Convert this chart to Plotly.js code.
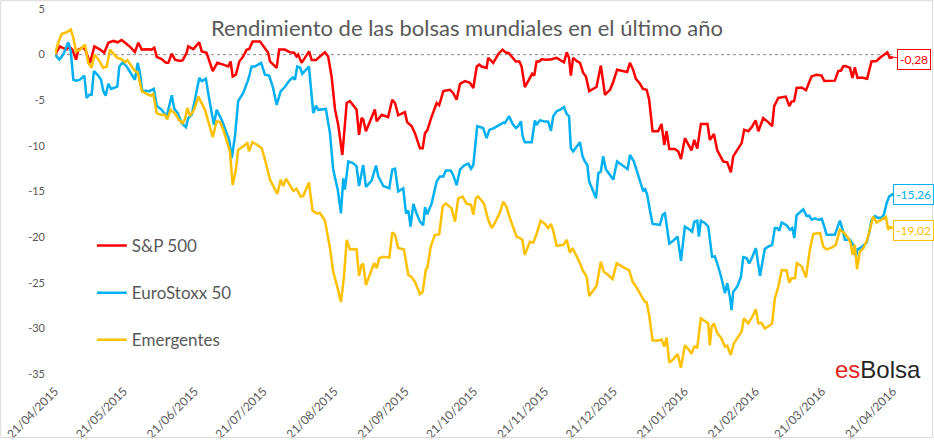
<!DOCTYPE html>
<html>
<head>
<meta charset="utf-8">
<script src="https://cdn.plot.ly/plotly-3.0.1.min.js"></script>
<style>html,body{margin:0;padding:0;background:#fff;}#chart{width:934px;height:440px;}</style>
</head>
<body>
<div id="chart"></div>
<script>
// Tick labels (dates) and y tick labels
const tickLabels = ['21/04/2015','21/05/2015','21/06/2015','21/07/2015','21/08/2015','21/09/2015','21/10/2015','21/11/2015','21/12/2015','21/01/2016','21/02/2016','21/03/2016','21/04/2016'];
const yTickLabels = ['5','0','-5','-10','-15','-20','-25','-30','-35'];
const seriesNames = ['S&P 500','EuroStoxx 50','Emergentes'];

// Days since 21/04/2015 and return (%)
const spDays = [0,2.2,3.6,5.1,6.2,7.6,9.2,10.2,12.4,13.5,15.3,17.2,19.7,21.5,23.3,25.5,27.4,29.1,30.6,32.8,34.9,36.4,37.9,40.0,42.2,43.4,44.4,46.6,48.5,49.5,51.0,52.4,54.6,55.8,57.5,58.2,60.4,63.0,64.1,66.2,68.9,70.9,73.5,75.7,76.7,77.6,79.0,80.5,82.2,83.7,84.8,86.3,89.5,91.7,93.1,93.9,96.8,97.9,100.4,102.6,104.4,105.5,106.2,107.7,109.2,111.0,112.1,114.0,115.7,117.9,119.3,120.8,122.3,123.7,125.5,127.4,128.8,131.7,132.8,133.9,134.6,135.8,137.6,139.7,140.5,142.7,145.5,147.3,148.5,149.9,152.8,153.8,155.8,157.2,159.4,160.6,161.6,162.6,164.5,166.7,167.8,169.6,172.5,173.9,175.4,176.9,179.0,181.2,182.7,184.2,185.3,186.3,188.5,189.2,190.0,191.4,193.7,195.5,197.0,198.0,199.4,201.3,202.8,203.8,205.2,207.4,208.4,209.3,210.3,211.5,212.5,214.7,216.9,219.1,220.5,222.3,223.5,224.5,225.3,226.3,228.1,229.3,230.7,231.9,233.3,235.1,236.5,238.4,240.2,242.4,243.8,245.5,247.5,249.9,251.1,252.5,253.7,255.5,256.8,258.4,259.5,261.0,263.4,264.9,266.1,267.1,268.3,270.7,272.2,273.4,275.1,277.0,278.0,279.2,280.5,282.1,285.0,286.0,287.8,289.2,291.8,293.6,295.2,296.2,298.4,299.9,301.0,302.8,304.3,306.0,307.2,309.3,311.5,313.2,314.1,315.9,319.2,320.7,321.7,322.8,323.9,326.1,328.0,330.4,332.6,334.8,336.0,338.4,340.6,342.1,343.3,344.2,345.4,347.2,348.3,349.3,350.5,352.3,354.7,356.6,358.8,360.3,361.7,363.5,364.6,366];
const spVals = [0,0.9,0.7,0.55,0.9,0.55,-0.55,0.55,0.8,0.36,-0.9,0.9,0.55,0.2,1.3,1.5,1.35,1.6,1.3,0.85,0.3,1.3,0.55,0.6,0.55,0.75,-0.25,-0.5,-0.9,-0.9,0.1,-0.55,-0.7,-0.6,0.2,0.9,0.6,1.35,0.35,0.2,-1.8,-0.9,-1.1,-1.3,-0.75,-2.4,-2.2,-0.75,-0.2,0.55,0.6,1.45,1.45,0.75,0.2,-0.75,-1.45,0.55,0.55,0.25,0.2,-0.2,0,-0.9,-0.35,0.35,-0.6,-0.6,-0.2,0.25,-0.2,-2.4,-6.0,-7.7,-11.0,-5.3,-5.1,-6.0,-8.8,-6.95,-7.1,-8.4,-7.3,-6.0,-7.3,-6.6,-6.85,-4.95,-5.3,-6.65,-6.3,-7.4,-7.85,-8.6,-10.25,-10.25,-8.6,-8.3,-6.8,-5.3,-5.55,-4.0,-3.85,-4.2,-4.95,-3.2,-2.9,-3.1,-3.65,-1.3,-1.1,-1.3,-1.45,-0.35,-0.55,-0.9,0.1,0.55,0.2,0.2,-0.2,-0.75,-0.75,-1.3,-3.55,-2.55,-2.1,-2.3,-0.75,-0.75,-0.5,-0.55,-0.5,-0.35,-0.55,-0.85,0.25,-0.35,-2.3,-0.35,-0.75,-0.9,-2.0,-2.4,-4.0,-3.75,-3.55,-1.2,-4.4,-3.85,-3.0,-1.65,-1.8,-1.9,-0.9,-1.65,-2.65,-3.2,-3.75,-3.85,-4.95,-8.4,-8.4,-7.6,-9.9,-8.4,-10.35,-10.35,-10.6,-11.45,-9.15,-10.05,-10.5,-9.35,-10.3,-7.6,-7.6,-9.35,-8.7,-10.45,-11.7,-11.8,-12.9,-11.15,-10.25,-9.7,-8.25,-8.4,-7.95,-7.2,-8.4,-6.95,-7.4,-7.85,-5.65,-4.75,-4.6,-5.65,-5.15,-5.1,-3.65,-3.6,-3.9,-2.4,-2.2,-2.3,-2.9,-2.9,-2.85,-1.8,-1.75,-1.3,-1.25,-1.45,-2.55,-1.4,-2.55,-2.5,-2.65,-0.75,-0.7,-0.35,-0.1,0.25,-0.35,-0.28];

const euDays = [0,1.9,3.6,5.8,6.9,8.0,9.5,10.9,12.8,13.8,15.0,16.0,17.0,18.9,20.1,21.1,22.1,23.3,24.5,26.2,27.2,28.1,29.6,31.3,33.2,34.9,36.1,37.1,38.1,39.7,41.2,43.2,44.4,46.6,48.8,51.0,52.1,53.6,55.3,57.2,58.2,59.7,61.1,63.0,64.1,65.9,67.4,69.4,70.6,72.8,75.0,76.1,77.2,78.6,80.0,82.2,84.4,85.9,87.3,90.0,91.7,93.5,95.1,96.8,98.6,100.4,102.2,103.8,104.8,105.8,107.0,108.0,110.9,112.8,114.0,115.0,118.3,120.1,121.5,123.5,124.9,125.9,126.6,128.1,130.3,131.7,132.8,133.9,134.6,135.8,138.3,140.2,141.2,143.4,146.0,147.3,148.5,149.9,152.1,153.3,154.3,155.3,156.5,157.9,159.4,160.8,161.6,162.6,164.5,166.7,168.1,169.6,170.7,172.8,173.9,175.4,176.9,178.6,180.5,181.7,182.7,184.4,187.0,188.5,189.7,191.7,194.0,195.8,196.5,198.3,199.9,201.3,202.3,203.5,204.2,205.2,208.2,209.6,210.3,211.8,213.5,215.4,216.6,217.6,219.1,220.5,222.3,223.5,224.5,225.3,226.3,227.8,229.3,230.4,231.4,232.5,233.3,235.1,236.3,237.3,238.4,239.4,240.6,242.4,243.8,245.5,247.9,250.1,251.1,252.8,254.7,256.9,257.6,258.6,259.8,261.0,264.2,265.4,266.4,268.3,270.0,271.9,273.4,275.1,277.3,278.3,279.2,280.5,281.2,282.1,283.8,285.3,287.0,288.2,289.7,291.1,292.6,293.6,294.8,295.5,296.2,298.0,299.6,300.6,302.1,303.2,304.5,306.1,307.9,310.0,311.5,313.2,314.4,315.4,316.3,317.4,319.5,321.0,322.0,322.9,323.9,325.3,326.8,328.3,329.4,330.5,331.9,333.4,334.9,336.0,337.0,340.6,342.1,342.8,344.0,345.0,347.2,348.9,349.8,350.6,351.5,353.0,354.5,355.6,356.6,358.1,359.5,361.0,362.0,363.2,364.3,366];
const euVals = [0,-0.55,0,1.35,0.35,-2.75,-2.85,-2.75,-2.3,-4.75,-4.4,-4.4,-1.8,-2.3,-2.75,-4.0,-4.5,-3.2,-3.75,-3.55,-3.5,-1.3,-0.85,-1.3,-2.1,-2.75,-0.9,-2.0,-4.0,-3.95,-4.0,-3.75,-5.6,-6.05,-6.75,-4.45,-5.95,-6.4,-7.5,-7.95,-6.95,-6.6,-4.95,-2.55,-2.9,-2.65,-4.95,-7.7,-6.05,-7.15,-8.6,-9.35,-11.35,-8.95,-5.1,-4.2,-2.75,-1.3,-1.3,-0.9,-2.2,-2.3,-3.5,-5.5,-4.0,-3.55,-2.9,-2.5,-2.75,-1.3,-1.4,-2.1,-1.3,-6.4,-5.6,-6.05,-5.95,-8.6,-12.6,-14.8,-17.4,-13.55,-14.8,-11.7,-11.9,-12.25,-14.4,-13.2,-12.1,-14.5,-13.8,-12.15,-13.35,-14.4,-14.65,-12.6,-12.5,-15.0,-14.65,-17.4,-17.1,-18.85,-16.35,-17.4,-18.3,-18.7,-16.7,-17.5,-16.3,-13.9,-13.35,-13.35,-12.7,-12.7,-13.2,-14.3,-12.6,-12.15,-11.95,-12.5,-12.1,-7.85,-8.05,-9.15,-8.25,-8.05,-7.7,-7.45,-7.5,-6.75,-7.6,-8.05,-7.85,-7.3,-8.9,-9.6,-9.6,-7.2,-7.7,-7.2,-7.3,-7.35,-8.35,-6.75,-6.2,-6.05,-5.75,-6.5,-6.75,-10.25,-10.6,-10.15,-9.6,-11.15,-11.7,-12.1,-13.9,-15.0,-15.75,-13.0,-12.8,-11.15,-12.55,-13.2,-13.7,-11.7,-12.1,-12.55,-11.0,-11.7,-13.2,-15.0,-14.65,-15.3,-17.0,-18.55,-18.65,-17.55,-17.4,-20.7,-20.4,-19.95,-22.6,-18.85,-19.2,-19.4,-18.3,-18.2,-19.95,-18.2,-18.45,-18.85,-22.15,-22.1,-23.25,-24.5,-26.15,-25.05,-26.6,-28.0,-26.0,-25.4,-24.35,-22.2,-22.3,-22.9,-22.2,-21.2,-24.25,-21.3,-21.05,-20.85,-19.0,-19.0,-19.3,-18.4,-18.7,-19.2,-19.0,-20.1,-17.6,-17.3,-16.95,-17.7,-17.65,-18.1,-17.95,-18.1,-18.0,-18.85,-19.75,-19.75,-18.75,-18.2,-19.2,-20.3,-20.3,-20.95,-22.15,-21.3,-21.25,-20.95,-20.6,-19.55,-18.1,-17.7,-17.9,-17.85,-17.55,-16.3,-15.55,-15.26];

const emDays = [0,1.4,2.9,5.1,6.9,8.0,9.2,10.9,13.1,14.5,16.0,17.2,18.9,21.1,22.6,24.0,25.5,27.2,29.1,30.6,31.6,33.5,34.9,36.1,37.9,40.0,41.8,42.9,44.4,46.2,48.0,49.0,50.5,52.4,54.3,55.8,56.8,57.8,59.0,60.7,62.6,65.5,66.9,68.9,70.6,72.1,73.5,75.2,76.4,77.6,79.0,80.0,82.2,84.0,84.7,86.2,88.1,90.3,91.7,93.9,96.1,97.1,98.6,99.7,100.9,102.6,104.1,105.5,107.3,108.4,110.9,112.5,114.3,115.7,117.9,120.1,121.5,123.3,124.9,126.2,127.4,128.8,130.3,131.7,132.8,133.9,134.6,135.8,137.6,139.4,140.5,141.6,143.4,146.0,147.3,148.5,149.9,152.4,154.3,155.8,157.2,159.4,160.6,162.0,162.6,164.1,165.9,167.8,169.3,170.7,173.2,174.7,176.1,178.0,179.8,181.7,182.7,183.8,184.8,187.3,189.2,190.7,192.1,194.3,195.8,197.2,198.7,200.4,201.6,203.1,204.1,205.2,207.4,208.9,210.4,212.1,214.0,215.4,216.6,217.6,219.1,222.0,223.5,224.9,226.1,227.5,229.3,230.4,232.2,233.3,235.1,236.5,238.4,239.7,241.6,243.5,245.3,247.4,248.9,250.8,252.3,254.0,256.2,257.6,258.4,259.5,261.0,263.4,264.9,266.1,267.1,268.3,270.0,271.9,273.4,275.1,277.0,278.0,279.2,280.5,282.1,284.3,285.3,286.0,286.8,287.8,289.2,290.8,292.6,293.6,295.1,296.5,298.4,299.9,300.9,302.8,304.7,306.1,307.2,308.6,310.0,311.5,313.2,314.4,315.9,317.4,319.5,320.7,321.7,323.2,324.0,326.1,328.0,329.7,331.2,334.1,335.6,337.0,339.2,341.0,342.8,344.7,346.4,347.5,348.3,349.3,350.3,351.5,353.0,354.7,356.2,357.3,358.8,361.0,362.9,363.9,364.6,366];
const emVals = [0,1.3,2.25,2.45,2.75,1.85,0.35,0.55,1.1,-0.9,-1.45,0,-0.5,-1.45,-1.3,0.55,0.1,-0.35,-0.5,-0.85,-0.6,-1.3,-1.8,-1.95,-4.0,-4.3,-4.5,-4.3,-6.4,-6.6,-6.6,-7.1,-6.05,-6.45,-7.2,-7.5,-7.05,-5.85,-6.75,-6.05,-4.6,-6.05,-7.3,-9.05,-7.3,-7.4,-8.25,-9.5,-10.6,-14.3,-12.6,-10.45,-10.05,-9.7,-10.6,-9.6,-9.85,-10.25,-11.5,-13.7,-14.8,-15.25,-13.7,-14.4,-13.6,-14.4,-14.95,-14.7,-15.55,-15.5,-14.0,-17.1,-17.4,-17.35,-18.2,-21.2,-23.8,-25.45,-27.1,-24.35,-20.3,-21.35,-21.3,-21.35,-24.25,-23.05,-22.9,-25.25,-24.15,-22.85,-23.4,-22.3,-22.15,-22.25,-19.5,-19.75,-21.2,-21.35,-24.15,-24.4,-24.9,-26.25,-26.0,-23.5,-23.4,-21.05,-19.75,-19.7,-16.65,-16.3,-16.85,-18.3,-15.75,-15.55,-16.35,-16.45,-17.55,-15.75,-15.55,-16.3,-18.1,-19.0,-18.45,-17.3,-16.1,-16.7,-17.95,-19.2,-19.95,-20.1,-20.3,-21.95,-20.5,-20.6,-19.6,-18.2,-18.55,-19.0,-18.55,-19.3,-20.95,-20.85,-20.3,-21.7,-21.2,-21.95,-22.85,-23.6,-24.35,-26.45,-25.9,-25.35,-22.7,-23.8,-24.15,-24.6,-22.85,-23.2,-23.4,-23.65,-24.9,-25.5,-26.45,-27.1,-27.15,-28.55,-31.3,-31.35,-31.2,-32.0,-31.0,-33.75,-33.4,-32.8,-34.3,-31.85,-32.4,-32.8,-32.0,-32.1,-28.9,-29.3,-29.45,-31.85,-29.8,-29.45,-30.5,-31.0,-32.0,-31.9,-32.9,-31.65,-31.0,-30.35,-28.9,-29.45,-28.65,-27.9,-29.45,-29.4,-30.0,-29.8,-29.45,-26.7,-25.45,-23.6,-23.65,-25.0,-24.5,-24.5,-22.85,-23.2,-24.4,-21.35,-19.65,-19.55,-21.05,-21.35,-21.15,-20.85,-19.2,-19.55,-20.1,-20.65,-21.95,-20.85,-23.5,-21.6,-21.25,-20.3,-18.9,-17.75,-18.4,-18.1,-17.8,-19.2,-18.9,-19.02];

const colors = ['#FF0000','#00B0F0','#FFC000'];

const DAY = 86400000;
function parseDMY(s){ const p = s.split('/'); return Date.UTC(+p[2], +p[1]-1, +p[0]); }
const START = parseDMY(tickLabels[0]);
const END = parseDMY(tickLabels[tickLabels.length-1]);
const toX = d => START + d*DAY;

const allDays = [spDays, euDays, emDays];
const allVals = [spVals, euVals, emVals];

const traces = allDays.map((days, i) => ({
  type: 'scatter', mode: 'lines',
  x: days.map(toX), y: allVals[i],
  name: seriesNames[i], legendgroup: 'g'+i,
  line: {color: colors[i], width: 2.5},
  hoverinfo: 'skip'
}));

const FONT = 'Lato, "Open Sans", sans-serif';
const fmt = v => v.toFixed(2).replace('.', ',');

const endAnn = allDays.map((days, i) => {
  const n = days.length - 1;
  return {
    x: toX(days[n]), y: allVals[i][n], xref: 'x', yref: 'y',
    text: fmt(allVals[i][n]),
    showarrow: true, arrowhead: 0, arrowwidth: 1, arrowcolor: colors[i],
    ax: [21, 20, 20][i], ay: [2, 1, 2][i],
    bgcolor: '#FFFFFF', bordercolor: colors[i], borderwidth: 1, borderpad: 2,
    font: {family: FONT, size: 12, color: colors[i]}
  };
});

const layout = {
  width: 934, height: 440,
  margin: {l: 55, r: 41, t: 9, b: 66},
  paper_bgcolor: '#FFFFFF', plot_bgcolor: '#FFFFFF',
  title: {text: 'Rendimiento de las bolsas mundiales en el último año',
          x: 0.5, xanchor: 'center', xref: 'container',
          y: 1 - 28/440, yanchor: 'middle', yref: 'container',
          font: {family: FONT, size: 22, color: '#595959'}},
  showlegend: true,
  legend: {x: 0.044, xanchor: 'left', y: 0.40, yanchor: 'top',
           bgcolor: 'rgba(0,0,0,0)', tracegroupgap: 22,
           font: {family: FONT, size: 17, color: '#595959'}},
  xaxis: {type: 'date', range: [START, END],
          tickmode: 'array', tickvals: tickLabels.map(parseDMY), ticktext: tickLabels,
          tickangle: -45, tickfont: {family: FONT, size: 12, color: '#595959'},
          ticklabelstandoff: 7,
          showgrid: false, zeroline: false, showline: false, ticks: ''},
  yaxis: {range: [-35, 5], tickmode: 'array',
          tickvals: yTickLabels.map(Number), ticktext: yTickLabels,
          tickfont: {family: FONT, size: 11, color: '#595959'},
          ticklabelstandoff: 9,
          showgrid: false, zeroline: false, showline: false, ticks: ''},
  shapes: [
    {type: 'line', xref: 'x', yref: 'y', x0: START, x1: END, y0: 0, y1: 0,
     line: {color: '#8C8C8C', width: 1, dash: 'dot'}, layer: 'below'},
    {type: 'rect', xref: 'paper', yref: 'paper',
     x0: -54.25/838, x1: 877.5/838, y0: -63.5/365, y1: 373.25/365,
     line: {color: '#D9D9D9', width: 1}, fillcolor: 'rgba(0,0,0,0)'}
  ],
  annotations: endAnn.concat([
    {xref: 'paper', yref: 'paper', x: 868/838, y: (374-369)/365,
     xanchor: 'right', yanchor: 'middle', showarrow: false,
     text: '<span style="color:#E2231A">es</span>Bolsa',
     font: {family: '"Liberation Sans", Arial, sans-serif', size: 24, color: '#262626'}}
  ])
};

Plotly.newPlot('chart', traces, layout, {staticPlot: true, displayModeBar: false});
</script>
</body>
</html>
